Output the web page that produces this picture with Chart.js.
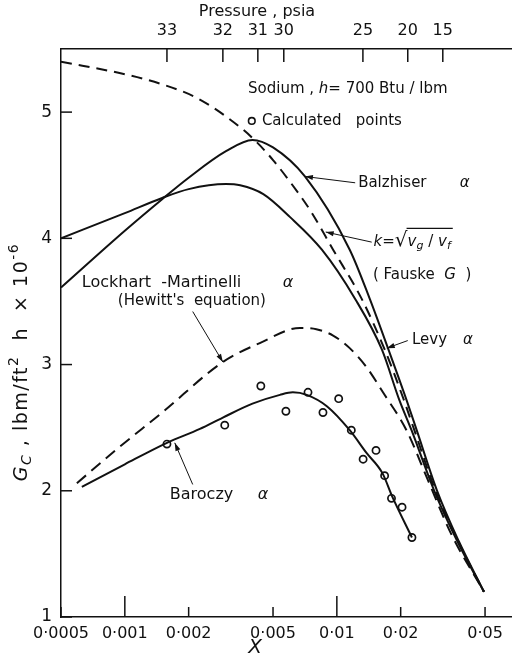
<!DOCTYPE html>
<html><head><meta charset="utf-8">
<script src="https://cdn.jsdelivr.net/npm/chart.js@4.4.1/dist/chart.umd.min.js"></script>
<style>html,body{margin:0;padding:0;background:#fff}#wrap{width:512px;height:659px}</style>
</head><body><div id="wrap"><canvas id="c" width="512" height="659"></canvas></div>
<script>
// ---- axis ticks ----
const xTickValues = [0.0005, 0.001, 0.002, 0.005, 0.01, 0.02, 0.05];
const xTickLabels = ['0·0005', '0·001', '0·002', '0·005', '0·01', '0·02', '0·05'];
const yTickValues = [1, 2, 3, 4, 5];
const pressureLabels = ['33', '32', '31', '30', '25', '20', '15'];
const pressureX = [0.00158, 0.0029, 0.00424, 0.00562, 0.01327, 0.0216, 0.0316];

// ---- curves ----
const dashedUpperX = [0.0005, 0.001, 0.0015, 0.0022, 0.0035, 0.0042, 0.005, 0.006, 0.0075, 0.0096, 0.0131, 0.0168, 0.0207, 0.0232, 0.0292, 0.0373, 0.0494];
const dashedUpperY = [5.40, 5.30, 5.22, 5.11, 4.88, 4.76, 4.62, 4.45, 4.22, 3.91, 3.52, 3.12, 2.72, 2.48, 2.0, 1.6, 1.2];

const balzhiserX = [0.0005, 0.001, 0.0015, 0.002, 0.003, 0.004, 0.005, 0.00707, 0.0115, 0.0143, 0.0175, 0.0213, 0.0238, 0.0297, 0.0376, 0.0494];
const balzhiserY = [3.61, 4.06, 4.31, 4.48, 4.69, 4.78, 4.72, 4.49, 3.91, 3.52, 3.12, 2.72, 2.48, 2.0, 1.6, 1.2];

const fauskeX = [0.0005, 0.001, 0.0015, 0.002, 0.003, 0.0035, 0.0045, 0.006, 0.0085, 0.0122, 0.0163, 0.0197, 0.0225, 0.0288, 0.037, 0.0494];
const fauskeY = [4.00, 4.20, 4.32, 4.39, 4.43, 4.42, 4.35, 4.17, 3.91, 3.52, 3.12, 2.72, 2.48, 2.0, 1.6, 1.2];

const lockhartX = [0.000594, 0.000917, 0.0015, 0.0029, 0.00433, 0.0067, 0.008, 0.0096, 0.0115, 0.0138, 0.0165, 0.0213, 0.0268, 0.0348, 0.0494];
const lockhartY = [2.06, 2.33, 2.62, 3.02, 3.17, 3.29, 3.28, 3.23, 3.13, 2.98, 2.78, 2.48, 2.09, 1.65, 1.2];

const baroczyX = [0.000627, 0.001, 0.00158, 0.00226, 0.0029, 0.004, 0.00539, 0.0062, 0.00721, 0.00897, 0.0115, 0.0138, 0.0164, 0.0183, 0.0226];
const baroczyY = [2.03, 2.21, 2.38, 2.49, 2.58, 2.69, 2.76, 2.78, 2.76, 2.67, 2.48, 2.30, 2.14, 1.95, 1.63];

// ---- calculated points ----
const calcX = [0.00158, 0.00296, 0.00438, 0.00575, 0.00731, 0.0086, 0.0102, 0.0117, 0.0133, 0.0153, 0.0168, 0.0181, 0.0203, 0.0226];
const calcY = [2.37, 2.52, 2.83, 2.63, 2.78, 2.62, 2.73, 2.48, 2.25, 2.32, 2.12, 1.94, 1.87, 1.63];

// ---- annotations (data coordinates) ----
const labelTexts = [
  {x: 0.00381, y: 5.18, size: 15, parts: [['Sodium , ', ''], ['h', 'i'], ['= 700 Btu / lbm', '']]},
  {x: 0.00443, y: 4.93, size: 15, parts: [['Calculated   points', '']]},
  {x: 0.0126, y: 4.44, size: 15, parts: [['Balzhiser', '']]},
  {x: 0.038, y: 4.44, size: 15, parts: [['α', 'i']]},
  {x: 0.0149, y: 3.97, size: 15, parts: [['k', 'i'], ['=', ''], ['√', 'R'], ['v', 'i'], ['g', 'ib'], [' / ', ''], ['v', 'i'], ['f', 'ib']]},
  {x: 0.0148, y: 3.71, size: 15, parts: [['( Fauske  ', ''], ['G', 'i'], ['  )', '']]},
  {x: 0.0226, y: 3.19, size: 15, parts: [['Levy', '']]},
  {x: 0.0394, y: 3.19, size: 15, parts: [['α', 'i']]},
  {x: 0.000627, y: 3.65, size: 16, parts: [['Lockhart  -Martinelli', '']]},
  {x: 0.00556, y: 3.65, size: 16, parts: [['α', 'i']]},
  {x: 0.000927, y: 3.50, size: 15, parts: [["(Hewitt's  equation)", '']]},
  {x: 0.00163, y: 1.97, size: 16, parts: [['Baroczy', '']]},
  {x: 0.00424, y: 1.97, size: 16, parts: [['α', 'i']]}
];
const arrowFromX = [0.0122, 0.0146, 0.0216, 0.00209, 0.00209];
const arrowFromY = [4.44, 3.97, 3.19, 3.42, 2.05];
const arrowToX = [0.00707, 0.00886, 0.0172, 0.0029, 0.00172];
const arrowToY = [4.49, 4.05, 3.13, 3.02, 2.38];
const legendCircleX = 0.00397, legendCircleY = 4.93;

const FONT = '"DejaVu Sans", "Liberation Sans", sans-serif';
const INK = '#111';

function pts(xs, ys) { return xs.map((x, i) => ({x: x, y: ys[i]})); }
function curve(xs, ys, dash) {
  return {data: pts(xs, ys), showLine: true, borderColor: INK, borderWidth: 2, pointRadius: 0,
    borderDash: dash || [], cubicInterpolationMode: 'monotone', fill: false};
}

function partFont(f, size) {
  const s = (f.includes('b') || f.includes('p')) ? Math.round(size * 0.72) : size;
  return (f.includes('i') ? 'italic ' : '') + s + 'px ' + FONT;
}
function drawRich(ctx, x, y, parts, size) {
  let cx = x, radStart = null;
  ctx.textBaseline = 'middle';
  ctx.textAlign = 'left';
  parts.forEach(([t, f]) => {
    if (f.includes('R')) {
      ctx.font = Math.round(size * 1.35) + 'px ' + FONT;
      ctx.fillText(t, cx, y - 1);
      cx += ctx.measureText(t).width;
      radStart = cx - 1;
      return;
    }
    ctx.font = partFont(f, size);
    const dy = f.includes('b') ? size * 0.3 : (f.includes('p') ? -size * 0.42 : 0);
    ctx.fillText(t, cx, y + dy);
    cx += ctx.measureText(t).width;
  });
  if (radStart !== null) {
    ctx.beginPath();
    ctx.lineWidth = 1.3;
    ctx.moveTo(radStart, y - size * 0.92);
    ctx.lineTo(cx + 2, y - size * 0.92);
    ctx.stroke();
  }
  return cx;
}

const decorPlugin = {
  id: 'decor',
  beforeDraw(chart) {
    const ctx = chart.ctx;
    ctx.save();
    ctx.fillStyle = '#fff';
    ctx.fillRect(0, 0, chart.width, chart.height);
    ctx.restore();
  },
  afterDraw(chart) {
    const {ctx, chartArea: a, scales} = chart;
    const sx = scales.x, sy = scales.y, s2 = scales.x2;
    ctx.save();
    ctx.strokeStyle = INK; ctx.fillStyle = INK; ctx.lineWidth = 1.5;
    // inner tick marks
    sx.ticks.forEach(t => {
      const p = sx.getPixelForValue(t.value);
      const lg = Math.log10(t.value);
      const major = Math.abs(lg - Math.round(lg)) < 1e-6;
      ctx.beginPath(); ctx.moveTo(p, a.bottom); ctx.lineTo(p, a.bottom - (major ? 21 : 10)); ctx.stroke();
    });
    s2.ticks.forEach(t => {
      const p = s2.getPixelForValue(t.value);
      ctx.beginPath(); ctx.moveTo(p, a.top); ctx.lineTo(p, a.top + 13); ctx.stroke();
    });
    sy.ticks.forEach(t => {
      const p = sy.getPixelForValue(t.value);
      ctx.beginPath(); ctx.moveTo(a.left, p); ctx.lineTo(a.left + 11, p); ctx.stroke();
    });
    // titles
    ctx.textAlign = 'center'; ctx.textBaseline = 'middle';
    ctx.font = '16px ' + FONT;
    ctx.fillText('Pressure , psia', 257, 12);
    ctx.font = 'italic 20px ' + FONT;
    ctx.fillText('X', 255, 648);
    // y title rotated
    ctx.save();
    ctx.translate(22, 362);
    ctx.rotate(-Math.PI / 2);
    if ('letterSpacing' in ctx) ctx.letterSpacing = '1.5px';
    const yParts = [['G', 'i'], ['C', 'ib'], [' , lbm/ft', ''], ['2', 'p'], ['  h  × 10', ''], ['-6', 'p']];
    let w = 0;
    yParts.forEach(([t, f]) => { ctx.font = partFont(f, 19); w += ctx.measureText(t).width; });
    drawRich(ctx, -w / 2, 0, yParts, 19);
    ctx.restore();
    // annotations
    labelTexts.forEach(L => {
      drawRich(ctx, sx.getPixelForValue(L.x), sy.getPixelForValue(L.y), L.parts, L.size);
    });
    // legend circle
    ctx.beginPath();
    ctx.lineWidth = 1.6;
    ctx.arc(sx.getPixelForValue(legendCircleX), sy.getPixelForValue(legendCircleY), 3.3, 0, Math.PI * 2);
    ctx.stroke();
    // arrows
    ctx.lineWidth = 1;
    arrowFromX.forEach((fx, i) => {
      const x1 = sx.getPixelForValue(fx), y1 = sy.getPixelForValue(arrowFromY[i]);
      const x2 = sx.getPixelForValue(arrowToX[i]), y2 = sy.getPixelForValue(arrowToY[i]);
      ctx.beginPath(); ctx.moveTo(x1, y1); ctx.lineTo(x2, y2); ctx.stroke();
      const ang = Math.atan2(y2 - y1, x2 - x1), L = 8, W = 2.6;
      ctx.beginPath();
      ctx.moveTo(x2, y2);
      ctx.lineTo(x2 - L * Math.cos(ang) + W * Math.sin(ang), y2 - L * Math.sin(ang) - W * Math.cos(ang));
      ctx.lineTo(x2 - L * Math.cos(ang) - W * Math.sin(ang), y2 - L * Math.sin(ang) + W * Math.cos(ang));
      ctx.closePath(); ctx.fill();
    });
    ctx.restore();
  }
};

const XMIN = 0.0005, XMAX = 0.067;
new Chart(document.getElementById('c'), {
  type: 'scatter',
  data: {
    datasets: [
      curve(dashedUpperX, dashedUpperY, [11, 7]),
      curve(balzhiserX, balzhiserY),
      curve(fauskeX, fauskeY),
      curve(lockhartX, lockhartY, [12, 7]),
      curve(baroczyX, baroczyY),
      {data: pts(calcX, calcY), showLine: false, pointRadius: 3.6, pointBorderWidth: 1.7,
       pointBackgroundColor: '#fff', pointBorderColor: INK}
    ]
  },
  options: {
    responsive: false, animation: false, devicePixelRatio: 1,
    layout: {padding: 0, autoPadding: false},
    plugins: {legend: {display: false}, tooltip: {enabled: false}},
    scales: {
      x: {
        type: 'logarithmic', position: 'bottom', min: XMIN, max: XMAX,
        afterBuildTicks: s => { s.ticks = xTickValues.map(v => ({value: v})); },
        afterFit: s => { s.height = 42; s.paddingLeft = 0; s.paddingRight = 0; },
        grid: {display: false, drawTicks: false},
        border: {display: true, color: INK, width: 1.5},
        ticks: {autoSkip: false, maxRotation: 0, padding: 7, color: INK,
          font: {family: FONT, size: 16},
          callback: v => xTickLabels[xTickValues.indexOf(v)]}
      },
      x2: {
        type: 'logarithmic', axis: 'x', position: 'top', min: XMIN, max: XMAX,
        afterBuildTicks: s => { s.ticks = pressureX.map(v => ({value: v})); },
        afterFit: s => { s.height = 49; s.paddingLeft = 0; s.paddingRight = 0; },
        grid: {display: false, drawTicks: false},
        border: {display: true, color: INK, width: 1.5},
        ticks: {autoSkip: false, maxRotation: 0, padding: 9, color: INK,
          font: {family: FONT, size: 16},
          callback: v => pressureLabels[pressureX.indexOf(v)]}
      },
      y: {
        type: 'linear', position: 'left', min: 1, max: 5.5,
        afterBuildTicks: s => { s.ticks = yTickValues.map(v => ({value: v})); },
        afterFit: s => { s.width = 61; },
        grid: {display: false, drawTicks: false},
        border: {display: true, color: INK, width: 1.5},
        ticks: {padding: 9, color: INK, font: {family: FONT, size: 17}}
      }
    }
  },
  plugins: [decorPlugin]
});
</script>
</body></html>
